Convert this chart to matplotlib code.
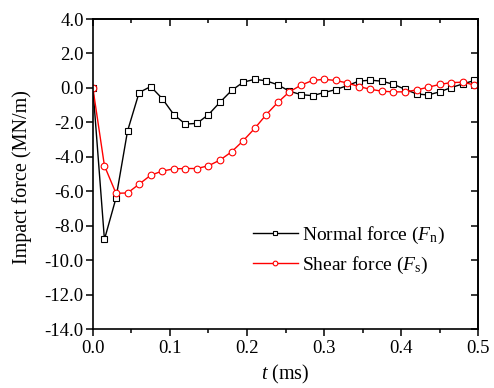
import numpy as np
import matplotlib
matplotlib.use("Agg")
import matplotlib.pyplot as plt
from matplotlib.ticker import MultipleLocator, FormatStrFormatter

# Time of the marked points [ms], one every 0.015 ms, plus the end of the record
t = [0.0, 0.015, 0.03, 0.045, 0.06, 0.075, 0.09, 0.105, 0.12, 0.135,
	0.15, 0.165, 0.18, 0.195, 0.21, 0.225, 0.24, 0.255, 0.27, 0.285,
	0.30, 0.315, 0.33, 0.345, 0.36, 0.375, 0.39, 0.405, 0.42, 0.435,
	0.45, 0.465, 0.48, 0.495, 0.5]

# Normal force F_n [MN/m]
normal = [0.0, -8.8, -6.4, -2.5, -0.27, 0.08, -0.62, -1.55, -2.1, -2.06,
	-1.55, -0.83, -0.15, 0.33, 0.5, 0.41, 0.18, -0.19, -0.39, -0.45,
	-0.27, -0.1, 0.13, 0.39, 0.45, 0.39, 0.21, -0.08, -0.35, -0.41,
	-0.23, 0.02, 0.23, 0.43, 0.45]

# Shear force F_s [MN/m]
shear = [0.0, -4.52, -6.12, -6.1, -5.59, -5.07, -4.83, -4.7, -4.68, -4.68,
	-4.52, -4.19, -3.71, -3.07, -2.35, -1.55, -0.84, -0.23, 0.16, 0.43,
	0.5, 0.43, 0.29, 0.08, -0.08, -0.19, -0.23, -0.23, -0.12, 0.04,
	0.2, 0.31, 0.33, 0.17, 0.12]

plt.rcParams["font.family"] = "Liberation Serif"
plt.rcParams["font.size"] = 13.5
plt.rcParams["mathtext.fontset"] = "custom"
plt.rcParams["mathtext.rm"] = "Liberation Serif"
plt.rcParams["mathtext.it"] = "Liberation Serif:italic"
plt.rcParams["axes.unicode_minus"] = False

fig = plt.figure(figsize=(4.94, 3.88), dpi=100)
ax = fig.add_axes([0.188, 0.152, 0.780, 0.799])

marks = list(range(len(t) - 1))
ax.plot(t, normal, color="k", lw=1.0, marker="s", markersize=5,
	markerfacecolor="w", markeredgecolor="k", markeredgewidth=0.8,
	markevery=marks, label=r"Normal force ($F_{\rm n}$)")
ax.plot(t, shear, color="r", lw=1.0, marker="o", markersize=4.8,
	markerfacecolor="w", markeredgecolor="r", markeredgewidth=0.8,
	markevery=marks, label=r"Shear force ($F_{\rm s}$)")

# Formatting
ax.set_xlim(0, 0.5)
ax.set_ylim(-14, 4)
ax.xaxis.set_major_locator(MultipleLocator(0.1))
ax.xaxis.set_minor_locator(MultipleLocator(0.05))
ax.yaxis.set_major_locator(MultipleLocator(2))
ax.xaxis.set_major_formatter(FormatStrFormatter("%.1f"))
ax.yaxis.set_major_formatter(FormatStrFormatter("%.1f"))
ax.tick_params(which="major", direction="out", length=5, width=1.1)
ax.tick_params(which="minor", direction="out", length=3, width=1.1)
ax.tick_params(axis="both", pad=1.5, labelsize=13.5)
ax.tick_params(axis="x", pad=3)
for s in ax.spines.values():
	s.set_linewidth(1.2)

# Top and right ticks point inwards
top = ax.secondary_xaxis("top")
top.xaxis.set_major_locator(MultipleLocator(0.1))
top.xaxis.set_minor_locator(MultipleLocator(0.05))
top.tick_params(which="major", direction="in", length=5, width=1.1, labeltop=False)
top.tick_params(which="minor", direction="in", length=3, width=1.1)
top.spines["top"].set_linewidth(1.2)
right = ax.secondary_yaxis("right")
right.yaxis.set_major_locator(MultipleLocator(2))
right.tick_params(which="major", direction="in", length=5, width=1.1, labelright=False)
right.spines["right"].set_linewidth(1.2)

ax.set_xlabel(r"$t$ (ms)", fontsize=14.5, labelpad=4.5)
ax.set_ylabel("Impact force (MN/m)", fontsize=14.5)
ax.yaxis.set_label_coords(-0.158, 0.49)

ax.legend(loc="lower left", bbox_to_anchor=(0.37, 0.115), frameon=False,
	numpoints=1, handlelength=2.3, handletextpad=0.2, labelspacing=0.45,
	fontsize=14, markerscale=0.7)

fig.savefig("out.png", dpi=100)
